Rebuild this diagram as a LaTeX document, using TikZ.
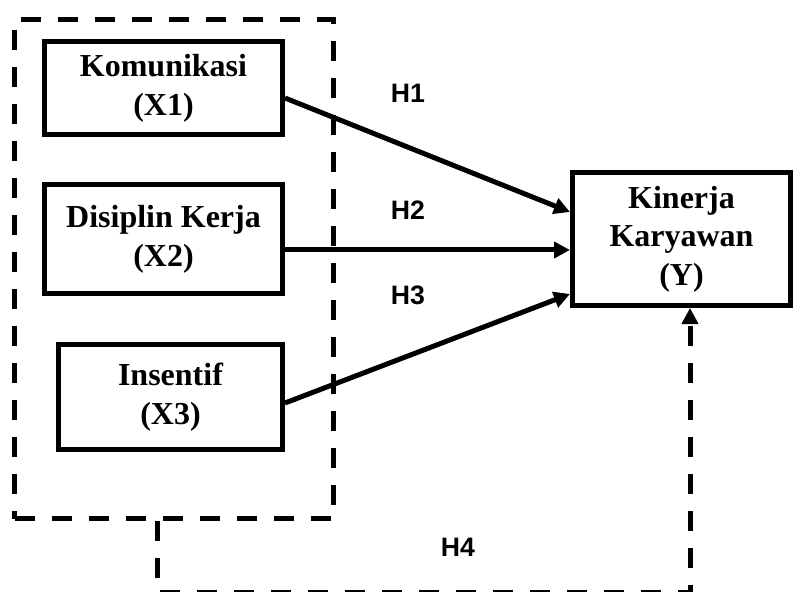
\documentclass[tikz,border=0pt]{standalone}
\usepackage{fontspec}
\setmainfont{Liberation Serif}
\newfontfamily\hfont{Liberation Sans}
\usetikzlibrary{arrows.meta,calc}
\begin{document}
\begin{tikzpicture}[x=0.75pt,y=-0.75pt,
  var/.style={draw,line width=3.75pt,align=center,inner sep=0pt,font=\fontsize{24}{29}\selectfont\bfseries},
  hyp/.style={font=\hfont\fontsize{20}{24}\selectfont\bfseries},
  tip/.style={-{Triangle[length=12pt,width=12pt]}},
  arr/.style={line width=3.75pt,tip},
  dsh/.style={line width=3.75pt,dash pattern=on 15pt off 12.75pt}]
\useasboundingbox (0,0) rectangle (794,592);
\node[draw,dsh,minimum width=239.25pt,minimum height=373.9pt,inner sep=0pt] (grp) at (174,269.25) {};
\node[var,minimum width=178.5pt,minimum height=69.4pt] (x1) at (163.5,88) {Komunikasi\\(X1)};
\node[var,minimum width=178.5pt,minimum height=81.75pt] (x2) at (163.5,239) {Disiplin Kerja\\(X2)};
\node[var,minimum width=168pt,minimum height=78.75pt] (x3) at (170.5,397) {Insentif\\(X3)};
\node[var,minimum width=163.5pt,minimum height=99.75pt] (y) at (681.5,239) {Kinerja\\Karyawan\\(Y)};
\draw[arr] ($(x1.east)+(0,10)$) -- ($(y.west)+(0,-27)$);
\draw[arr] ($(x2.east)+(0,11)$) -- ($(y.west)+(0,11)$);
\draw[arr] ($(x3.east)+(0,6)$) -- ($(y.west)+(0,55)$);
\coordinate (h4s) at ($(grp.south west)+(145,0)$);
\coordinate (c1) at (157,592.5);
\coordinate (c2) at (690,592.5);
\draw[dsh,tip] (h4s) -- (c1) -- (c2) -- (y.south -| c2);
\node[hyp] (h1) at (408,93) {H1};
\node[hyp] (h2) at (408,210) {H2};
\node[hyp] (h3) at (408,295) {H3};
\node[hyp] (h4) at (458,547) {H4};
\end{tikzpicture}
\end{document}
